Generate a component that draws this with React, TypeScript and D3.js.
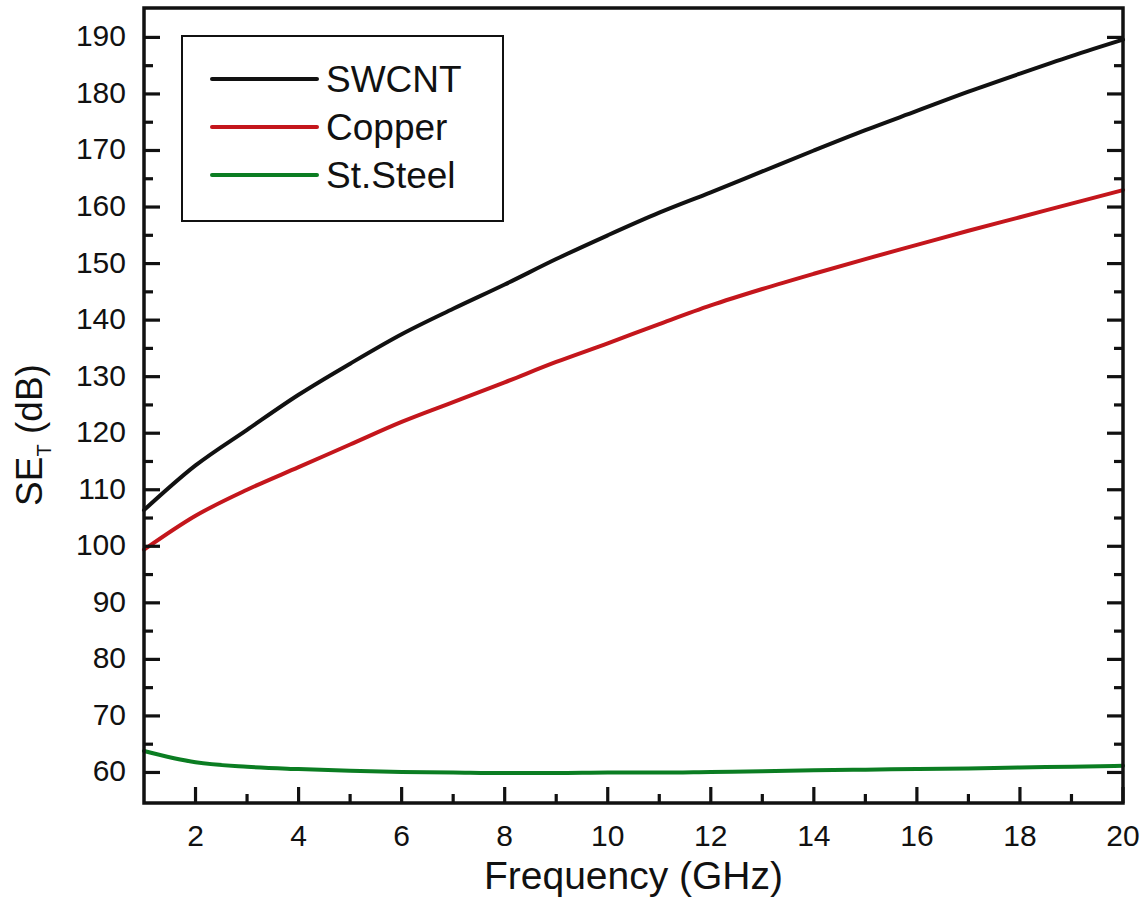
import React from "react";
import * as d3 from "d3";

// Frequency sweep (GHz) and total shielding effectiveness (dB) per material
const frequency = [1, 2, 3, 4, 5, 6, 7, 8, 9, 10, 11, 12, 13, 14, 15, 16, 17, 18, 19, 20];
const swcnt = [106.4, 114.3, 120.6, 126.8, 132.3, 137.5, 142.0, 146.3, 150.8, 155.0, 159.0, 162.6, 166.3, 170.0, 173.6, 177.0, 180.4, 183.6, 186.7, 189.6];
const copper = [99.4, 105.4, 110.0, 114.0, 118.0, 122.0, 125.5, 129.0, 132.6, 135.9, 139.3, 142.6, 145.5, 148.2, 150.8, 153.3, 155.8, 158.2, 160.6, 163.0];
const steel = [63.8, 61.8, 61.0, 60.6, 60.3, 60.1, 60.0, 59.9, 59.9, 60.0, 60.0, 60.1, 60.2, 60.4, 60.5, 60.6, 60.7, 60.9, 61.0, 61.2];

const seriesNames = ["SWCNT", "Copper", "St.Steel"];
const seriesColors = ["#111111", "#c4161c", "#0b7d22"];

const xMajorTicks = [2, 4, 6, 8, 10, 12, 14, 16, 18, 20];
const xMinorTicks = [3, 5, 7, 9, 11, 13, 15, 17, 19];
const yMajorTicks = [60, 70, 80, 90, 100, 110, 120, 130, 140, 150, 160, 170, 180, 190];
const yMinorTicks = [65, 75, 85, 95, 105, 115, 125, 135, 145, 155, 165, 175, 185];

const W = 1147;
const H = 924;
const left = 144;
const right = 1123;
const top = 8;
const bottom = 803;

const FONT = "Arial, 'Liberation Sans', Helvetica, sans-serif";

export default function App() {
  const x = d3.scaleLinear().domain([1, 20]).range([left, right]);
  const y = d3.scaleLinear().domain([54.6, 195.2]).range([bottom, top]);

  const line = d3
    .line<[number, number]>()
    .x((d) => x(d[0]))
    .y((d) => y(d[1]))
    .curve(d3.curveMonotoneX);

  const allSeries = [swcnt, copper, steel].map((vals) =>
    frequency.map((f, i) => [f, vals[i]] as [number, number])
  );

  const majorLen = 16;
  const minorLen = 9;

  const legendLeft = 182;
  const legendTop = 36;
  const legendW = 321;
  const legendH = 185;
  const legendRows = [79, 127, 175];

  return (
    <svg
      width={W}
      height={H}
      style={{ position: "absolute", left: 0, top: 0, background: "#fff" }}
      fontFamily={FONT}
    >
      <rect x={0} y={0} width={W} height={H} fill="#fff" />

      {/* data curves */}
      <g fill="none" strokeWidth={4} strokeLinejoin="round" strokeLinecap="round">
        {allSeries.map((s, i) => (
          <path key={seriesNames[i]} d={line(s) ?? ""} stroke={seriesColors[i]} />
        ))}
      </g>

      {/* ticks, pointing inward on every side but the top */}
      <g stroke="#111" strokeWidth={3.2}>
        {xMajorTicks.map((t) => (
          <line key={"xM" + t} x1={x(t)} x2={x(t)} y1={bottom} y2={bottom - majorLen} />
        ))}
        {xMinorTicks.map((t) => (
          <line key={"xm" + t} x1={x(t)} x2={x(t)} y1={bottom} y2={bottom - minorLen} />
        ))}
        {yMajorTicks.map((t) => (
          <g key={"yM" + t}>
            <line x1={left} x2={left + majorLen} y1={y(t)} y2={y(t)} />
            <line x1={right} x2={right - majorLen} y1={y(t)} y2={y(t)} />
          </g>
        ))}
        {yMinorTicks.map((t) => (
          <g key={"ym" + t}>
            <line x1={left} x2={left + minorLen} y1={y(t)} y2={y(t)} />
            <line x1={right} x2={right - minorLen} y1={y(t)} y2={y(t)} />
          </g>
        ))}
      </g>

      {/* plot frame */}
      <rect
        x={left}
        y={top}
        width={right - left}
        height={bottom - top}
        fill="none"
        stroke="#111"
        strokeWidth={3.5}
      />

      {/* tick labels */}
      <g fontSize={30} fill="#111">
        {xMajorTicks.map((t) => (
          <text key={"xl" + t} x={x(t)} y={846} textAnchor="middle">
            {t}
          </text>
        ))}
        {yMajorTicks.map((t) => (
          <text key={"yl" + t} x={126} y={y(t) + 9} textAnchor="end">
            {t}
          </text>
        ))}
      </g>

      {/* axis titles */}
      <text x={(left + right) / 2} y={889} fontSize={39} textAnchor="middle" fill="#111">
        Frequency (GHz)
      </text>
      <text
        transform={`translate(42, 435) rotate(-90)`}
        fontSize={37}
        textAnchor="middle"
        fill="#111"
      >
        SE<tspan fontSize={20} dy={9}>T</tspan>
        <tspan dy={-9}> (dB)</tspan>
      </text>

      {/* legend */}
      <rect
        x={legendLeft}
        y={legendTop}
        width={legendW}
        height={legendH}
        fill="#fff"
        stroke="#111"
        strokeWidth={2}
      />
      {seriesNames.map((name, i) => (
        <g key={"lg" + name}>
          <line
            x1={212}
            x2={317}
            y1={legendRows[i]}
            y2={legendRows[i]}
            stroke={seriesColors[i]}
            strokeWidth={4}
            strokeLinecap="round"
          />
          <text x={326} y={legendRows[i] + 13} fontSize={37} fill="#111">
            {name}
          </text>
        </g>
      ))}
    </svg>
  );
}
